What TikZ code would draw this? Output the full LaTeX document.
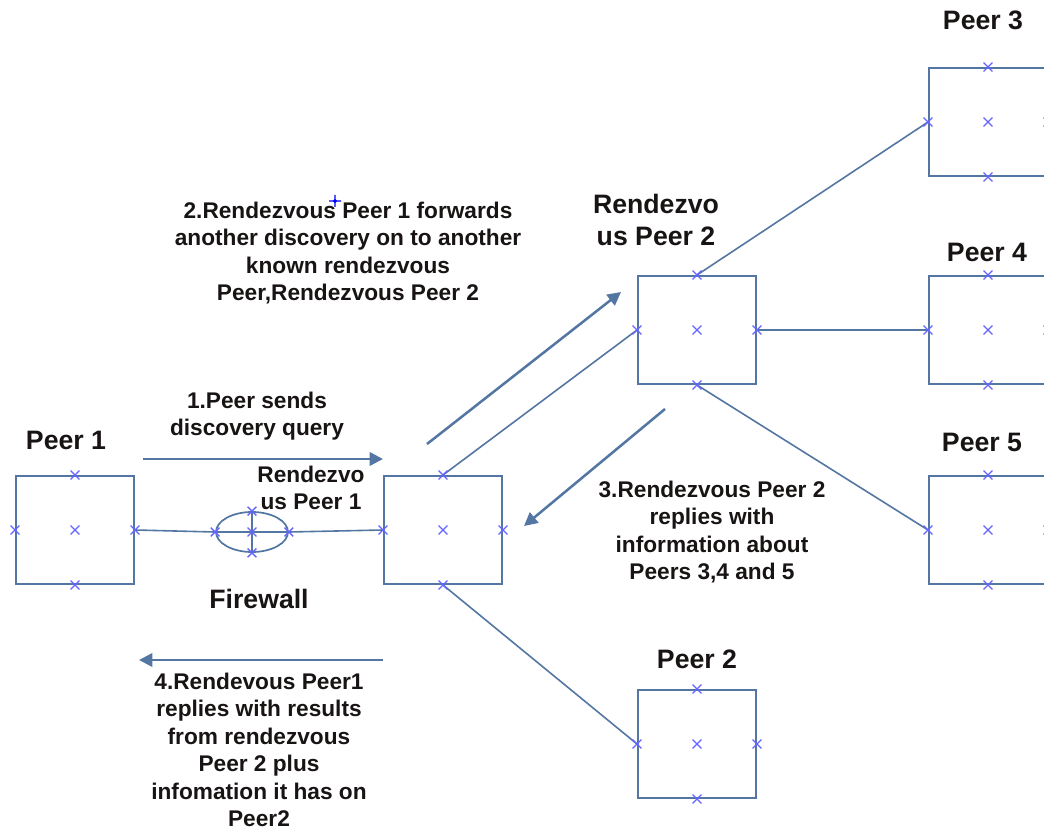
\documentclass[tikz,border=0pt]{standalone}
\usepackage{fontspec}
\setmainfont{Liberation Sans}
\usetikzlibrary{shapes.geometric,arrows.meta}

\definecolor{edgeblue}{RGB}{84,118,163}
\definecolor{markblue}{RGB}{100,100,255}
\definecolor{ink}{RGB}{25,20,20}

\begin{document}
\begin{tikzpicture}[x=0.75pt,y=-0.75pt,
  peerbox/.style={draw=edgeblue, line width=1.5pt, minimum width=88.5pt,
    minimum height=81pt, inner sep=0pt},
  fwall/.style={ellipse, draw=edgeblue, line width=1.3pt, minimum width=54pt,
    minimum height=30pt, inner sep=0pt},
  link/.style={draw=edgeblue, line width=1.2pt},
  flow/.style={draw=edgeblue, line width=1.9pt,
    -{Triangle[length=10pt,width=10pt]}},
  body/.style={font=\bfseries\fontsize{17}{20.6}\selectfont, text=ink,
    align=center, inner sep=0pt},
  head/.style={font=\bfseries\fontsize{20}{24.5}\selectfont, text=ink,
    align=center, inner sep=0pt},
  xmark/.pic={\draw[markblue, line width=1pt]
    (-3.3pt,-3.3pt) -- (3.3pt,3.3pt) (-3.3pt,3.3pt) -- (3.3pt,-3.3pt);},
  cursor/.pic={\draw[blue, line width=0.8pt]
    (-4.5pt,0) -- (4.5pt,0) (0,-4.5pt) -- (0,4.5pt) (0,0) circle (1.3pt);}]

\useasboundingbox (0,0) rectangle (1044,830);

% peers and rendezvous peers
\node[peerbox] (p1)  at (75,530)  {};
\node[peerbox] (rp1) at (443,530) {};
\node[peerbox] (rp2) at (697,330) {};
\node[peerbox] (p2)  at (697,744) {};
\node[peerbox] (p3)  at (988,122) {};
\node[peerbox] (p4)  at (988,330) {};
\node[peerbox] (p5)  at (988,530) {};

% firewall
\node[fwall] (fw) at (252,532) {};
\draw[link] (fw.north) -- (fw.south);
\draw[link] (fw.west) -- (fw.east);

% links
\draw[link] (p1.east) -- (fw.west);
\draw[link] (fw.east) -- (rp1.west);
\draw[link] (rp1.north) -- (rp2.west);
\draw[link] (rp1.south) -- (p2.west);
\draw[link] (rp2.north) -- (p3.west);
\draw[link] (rp2.east) -- (p4.west);
\draw[link] (rp2.south) -- (p5.west);

% connection points
\foreach \n in {p1,rp1,rp2,p2,p3,p4,p5}{
  \foreach \a in {north,south,east,west,center}{
    \pic at (\n.\a) {xmark};
  }
}
\foreach \a in {north,south,east,west,center}{
  \pic at (fw.\a) {xmark};
}

% message flow arrows
\coordinate (f1s) at (143,459);
\coordinate (f1e) at (383,459);
\coordinate (f2s) at (427,444);
\coordinate (f2e) at (621,292);
\coordinate (f3s) at (665,409);
\coordinate (f3e) at (524,526);
\coordinate (f4s) at (383,660);
\coordinate (f4e) at (139,660);
\draw[flow] (f1s) -- (f1e);
\draw[flow] (f2s) -- (f2e);
\draw[flow] (f3s) -- (f3e);
\draw[flow] (f4s) -- (f4e);

% labels
\node[head] (l1) at (66,440) {Peer 1};
\node[head] (l2) at (697,659) {Peer 2};
\node[head] (l3) at (983,20) {Peer 3};
\node[head] (l4) at (987,252) {Peer 4};
\node[head] (l5) at (982,442) {Peer 5};
\node[head] (lrp2) at (656,220) {Rendezvo\\us Peer 2};
\node[head] (lfw) at (259,599) {Firewall};
\node[body] (lrp1) at (311,488) {Rendezvo\\us Peer 1};

\node[body] (m1) at (257,416) {1.Peer sends\\discovery query};
\node[body] (m2) at (348,253) {2.Rendezvous Peer 1 forwards\\another discovery on to another\\known rendezvous\\Peer,Rendezvous Peer 2};
\node[body] (m3) at (712,532) {3.Rendezvous Peer 2\\replies with\\information about\\Peers 3,4 and 5};
\node[body] (m4) at (259,750) {4.Rendevous Peer1\\replies with results\\from rendezvous\\Peer 2 plus\\infomation it has on\\Peer2};

\pic at (335,201) {cursor};
\end{tikzpicture}
\end{document}
